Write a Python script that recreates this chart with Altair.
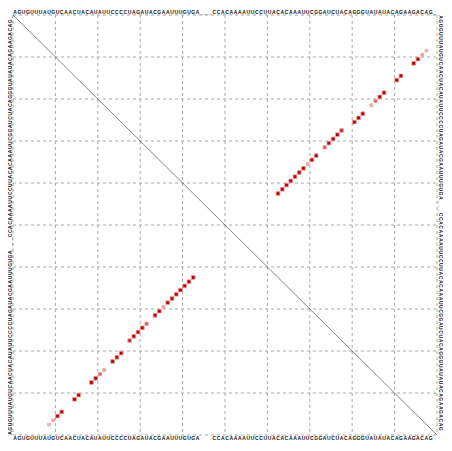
import altair as alt
import pandas as pd

# RNA sequence written around the dot plot ("_" = gap)
sequence = list("AGUGUUUAUGUCAACUACAUAUUCCCCUAGAUACGAAUUUGUGA___CCACAAAAUUCCUUACACAAAUUCGGAUCUACAGGGUAUAUACAGAAGACAG_")

# base pairs (i < j) and their probabilities
pair_i = [9, 10, 11, 12, 15, 16, 19, 20, 21, 22, 24, 25, 26, 28, 29, 30, 31, 32,
          34, 35, 36, 37, 38, 39, 40, 41, 42, 43]
pair_j = [98, 97, 96, 95, 92, 91, 88, 87, 86, 85, 83, 82, 81, 78, 77, 76, 75, 74,
          72, 71, 70, 69, 68, 67, 66, 65, 64, 63]
pair_prob = [0.2, 0.3, 1.0, 1.0, 1.0, 1.0, 1.0, 1.0, 0.6, 0.3, 1.0, 1.0, 1.0, 0.85, 1.0, 1.0, 1.0, 0.65,
             1.0, 1.0, 0.3, 1.0, 1.0, 1.0, 1.0, 1.0, 1.0, 1.0]

grid_ticks = list(range(0, 101, 10))

N = len(sequence)
W = 424
H = 420

seq_df = pd.DataFrame({"pos": list(range(1, N + 1)), "nt": sequence})
seq_df["c"] = seq_df["pos"] - 0.5
seq_df["rev"] = N + 0.5 - seq_df["pos"]

upper = pd.DataFrame({"x": [j - 0.5 for j in pair_j], "y": [i - 0.5 for i in pair_i], "p": pair_prob})
lower = pd.DataFrame({"x": [i - 0.5 for i in pair_i], "y": [j - 0.5 for j in pair_j], "p": pair_prob})
pts = pd.concat([upper, lower], ignore_index=True)

diag = pd.DataFrame({"x0": [0], "y0": [0], "x1": [N], "y1": [N]})
grid_df = pd.DataFrame({"g": grid_ticks})

xs = alt.Scale(domain=[0, N], nice=False, zero=False)
ys = alt.Scale(domain=[0, N], reverse=True, nice=False, zero=False)

grid_style = dict(color="#a8a8a8", strokeWidth=1, strokeDash=[3, 3])
vgrid = alt.Chart(grid_df).mark_rule(**grid_style).encode(
    x=alt.X("g:Q", scale=xs, axis=None), y=alt.value(0), y2=alt.value(H))
hgrid = alt.Chart(grid_df).mark_rule(**grid_style).encode(
    y=alt.Y("g:Q", scale=ys, axis=None), x=alt.value(0), x2=alt.value(W))

points = alt.Chart(pts).mark_square(opacity=1, stroke="#eaa0a0", strokeWidth=0.8).encode(
    x=alt.X("x:Q", scale=xs, axis=None),
    y=alt.Y("y:Q", scale=ys, axis=None),
    color=alt.Color("p:Q", scale=alt.Scale(domain=[0, 1], range=["#fff0f0", "#b80000"],
                                           interpolate="rgb"), legend=None),
    size=alt.Size("p:Q", scale=alt.Scale(domain=[0, 1], range=[5, 14]), legend=None),
)

diagonal = alt.Chart(diag).mark_rule(color="#333333", strokeWidth=0.6).encode(
    x=alt.X("x0:Q", scale=xs, axis=None),
    y=alt.Y("y0:Q", scale=ys, axis=None),
    x2="x1:Q",
    y2="y1:Q",
)

txt = dict(font="Liberation Sans", fontSize=5, fontWeight="bold", color="#111111",
           align="center", baseline="middle")

top = alt.Chart(seq_df).mark_text(**txt).encode(
    x=alt.X("c:Q", scale=xs, axis=None), y=alt.value(-3), text="nt:N")
bottom = alt.Chart(seq_df).mark_text(**txt).encode(
    x=alt.X("c:Q", scale=xs, axis=None), y=alt.value(H + 3), text="nt:N")
left = alt.Chart(seq_df).mark_text(angle=270, **txt).encode(
    x=alt.value(-3.5), y=alt.Y("rev:Q", scale=ys, axis=None), text="nt:N")
right = alt.Chart(seq_df).mark_text(angle=90, **txt).encode(
    x=alt.value(W + 3.5), y=alt.Y("c:Q", scale=ys, axis=None), text="nt:N")

chart = alt.layer(vgrid, hgrid, diagonal, points, top, bottom, left, right).properties(
    width=W, height=H,
    autosize=alt.AutoSizeParams(type="none"),
    padding={"left": 5, "top": 7, "right": 6, "bottom": 5},
).configure_view(stroke=None)

chart.save("out.html", embed_options={"renderer": "svg", "actions": False})
